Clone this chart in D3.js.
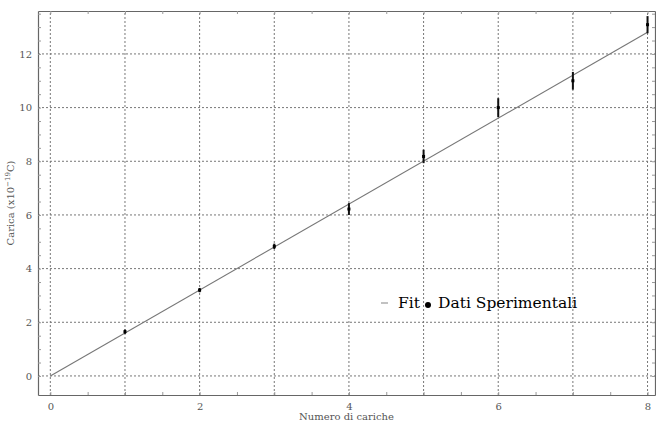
<!DOCTYPE html>
<html>
<head>
<meta charset="utf-8">
<script src="https://cdn.jsdelivr.net/npm/d3@7"></script>
<style>
    body { margin: 0; background: #fff; }
    svg { display: block; font-family: "DejaVu Serif", serif; }
</style>
</head>
<body>
<div id="chart"></div>
<script>
// number of charges and measured charge (x10^-19 C)
var charges = [1, 2, 3, 4, 5, 6, 7, 8];
var carica = [1.65, 3.2, 4.83, 6.22, 8.18, 10.0, 11.0, 13.09];
var errors = [0.08, 0.08, 0.1, 0.22, 0.25, 0.35, 0.33, 0.32];
var fitX = [0, 8];
var fitY = [0, 12.81];
var xTicks = [0, 2, 4, 6, 8];
var yTicks = [0, 2, 4, 6, 8, 10, 12];

var width = 656, height = 424;
var margin = {left: 38, right: 1, top: 11, bottom: 29};

var svg = d3.select("#chart").append("svg")
    .attr("width", width)
    .attr("height", height);

var x = d3.scaleLinear().domain([-0.165, 8.1]).range([margin.left, width - margin.right]);
var y = d3.scaleLinear().domain([-0.71, 13.6]).range([height - margin.bottom, margin.top]);

// grid
svg.append("g").selectAll("line")
    .data(d3.range(0, 9, 1))
    .enter().append("line")
    .attr("x1", function (d) { return x(d); })
    .attr("x2", function (d) { return x(d); })
    .attr("y1", y.range()[0])
    .attr("y2", y.range()[1])
    .attr("stroke", "#777")
    .attr("stroke-width", 1)
    .attr("stroke-dasharray", "2,2");

svg.append("g").selectAll("line")
    .data(yTicks)
    .enter().append("line")
    .attr("y1", function (d) { return y(d); })
    .attr("y2", function (d) { return y(d); })
    .attr("x1", x.range()[0])
    .attr("x2", x.range()[1])
    .attr("stroke", "#777")
    .attr("stroke-width", 1)
    .attr("stroke-dasharray", "2,2");

// axes: ticks pointing inward on all sides
function styleAxis(g) {
    g.select(".domain").attr("stroke", "#666").attr("stroke-width", 1.2);
    g.selectAll(".tick line").attr("stroke", "#999");
    g.selectAll("text").attr("fill", "#555").attr("font-size", "10px")
        .attr("font-family", "DejaVu Serif, serif");
}

var minorX = d3.range(0, 8.01, 0.5);
var minorY = d3.range(0, 13.51, 0.5);

svg.append("g")
    .attr("transform", "translate(0," + y.range()[0] + ")")
    .call(d3.axisBottom(x).tickValues(minorX).tickSizeInner(-3).tickSizeOuter(0).tickFormat(function (d) {
        return xTicks.indexOf(d) >= 0 ? d : "";
    }).tickPadding(8))
    .call(styleAxis);

svg.append("g")
    .attr("transform", "translate(0," + y.range()[1] + ")")
    .call(d3.axisTop(x).tickValues(minorX).tickSizeInner(-3).tickSizeOuter(0).tickFormat(""))
    .call(styleAxis);

svg.append("g")
    .attr("transform", "translate(" + x.range()[0] + ",0)")
    .call(d3.axisLeft(y).tickValues(minorY).tickSizeInner(-3).tickSizeOuter(0).tickFormat(function (d) {
        return yTicks.indexOf(d) >= 0 ? d : "";
    }).tickPadding(6))
    .call(styleAxis);

svg.append("g")
    .attr("transform", "translate(" + x.range()[1] + ",0)")
    .call(d3.axisRight(y).tickValues(minorY).tickSizeInner(-3).tickSizeOuter(0).tickFormat(""))
    .call(styleAxis);

// fit line
var line = d3.line()
    .x(function (d) { return x(d[0]); })
    .y(function (d) { return y(d[1]); });

svg.append("path")
    .datum(d3.zip(fitX, fitY))
    .attr("d", line)
    .attr("fill", "none")
    .attr("stroke", "#777")
    .attr("stroke-width", 1.1);

// error bars and points
var pts = svg.append("g").selectAll("g")
    .data(d3.range(charges.length))
    .enter().append("g");

pts.append("line")
    .attr("x1", function (i) { return x(charges[i]); })
    .attr("x2", function (i) { return x(charges[i]); })
    .attr("y1", function (i) { return y(carica[i] - errors[i]); })
    .attr("y2", function (i) { return y(carica[i] + errors[i]); })
    .attr("stroke", "#111")
    .attr("stroke-width", 2);

pts.append("rect")
    .attr("x", function (i) { return x(charges[i]) - 1.5; })
    .attr("y", function (i) { return y(carica[i]) - 1.5; })
    .attr("width", 3)
    .attr("height", 3)
    .attr("fill", "#000");

// axis labels
svg.append("text")
    .attr("x", (x.range()[0] + x.range()[1]) / 2)
    .attr("y", 420)
    .attr("text-anchor", "middle")
    .attr("font-size", "10px")
    .attr("fill", "#555")
    .text("Numero di cariche");

var yl = svg.append("text")
    .attr("transform", "translate(14," + (y.range()[0] + y.range()[1]) / 2 + ") rotate(-90)")
    .attr("text-anchor", "middle")
    .attr("font-size", "10px")
    .attr("fill", "#555");
yl.append("tspan").text("Carica (x10");
yl.append("tspan").attr("dy", -4).attr("font-size", "7px").text("−19");
yl.append("tspan").attr("dy", 4).text("C)");

// legend
var lg = svg.append("g").attr("transform", "translate(381,308)");
lg.append("line")
    .attr("x1", 0).attr("x2", 7).attr("y1", -5).attr("y2", -5)
    .attr("stroke", "#999").attr("stroke-width", 1.2);
lg.append("text").attr("x", 17).attr("y", 0)
    .attr("font-size", "15.5px").attr("fill", "#000").text("Fit");
lg.append("circle").attr("cx", 47).attr("cy", -3).attr("r", 3).attr("fill", "#000");
lg.append("text").attr("x", 57).attr("y", 0)
    .attr("font-size", "15.5px").attr("fill", "#000").text("Dati Sperimentali");
</script>
</body>
</html>
